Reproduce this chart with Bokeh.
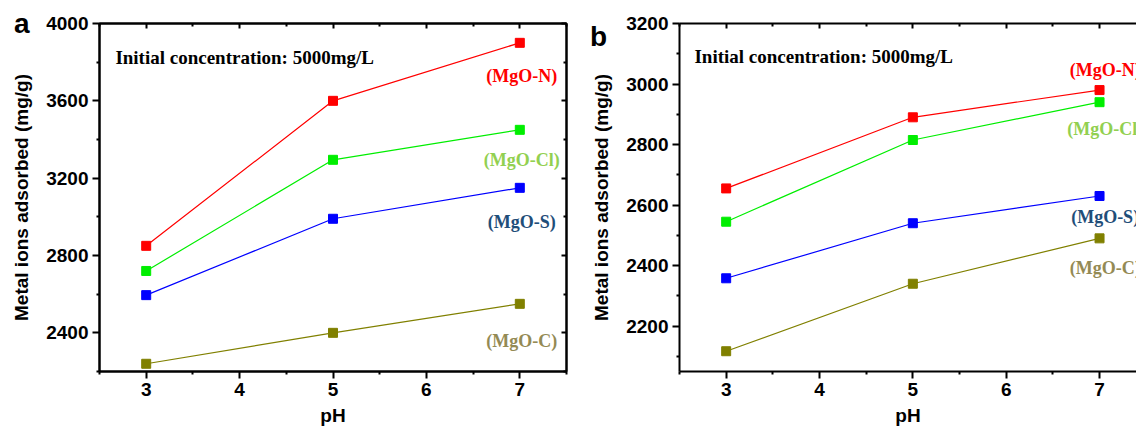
from bokeh.plotting import figure
from bokeh.layouts import row
from bokeh.models import Range1d, FixedTicker, LinearAxis, Label, Div
from bokeh.core.properties import value
from bokeh.embed import file_html
from bokeh.resources import INLINE

# ---------------- data ----------------
ph = [3, 5, 7]
series_names = ["(MgO-N)", "(MgO-Cl)", "(MgO-S)", "(MgO-C)"]

a_N = [2850, 3600, 3900]
a_Cl = [2720, 3295, 3450]
a_S = [2595, 2990, 3150]
a_C = [2240, 2400, 2550]

b_N = [2655, 2890, 2980]
b_Cl = [2545, 2815, 2940]
b_S = [2358, 2540, 2630]
b_C = [2117, 2340, 2490]

x_ticks = [3, 4, 5, 6, 7]
x_minor = [2.5, 3.5, 4.5, 5.5, 6.5, 7.5]
a_y_ticks = [2400, 2800, 3200, 3600, 4000]
a_y_minor = [2200, 2600, 3000, 3400, 3800]
b_y_ticks = [2200, 2400, 2600, 2800, 3000, 3200]
b_y_minor = [2100, 2300, 2500, 2700, 2900, 3100]

annotation = "Initial concentration: 5000mg/L"
y_title = "Metal ions adsorbed (mg/g)"
x_title = "pH"
panel_letters = ["a", "b"]

line_colors = ["#ff0000", "#00ee00", "#0000ff", "#808000"]
label_colors = ["#ff0000", "#92d050", "#1f4e79", "#948a54"]

SANS = "Liberation Sans"
SERIF = "Liberation Serif"


def style_axis(ax, labels=True):
    ax.axis_line_width = 2
    ax.axis_line_color = "black"
    ax.major_tick_line_width = 2
    ax.minor_tick_line_width = 2
    ax.major_tick_line_color = "black"
    ax.minor_tick_line_color = "black"
    ax.major_label_text_font = SANS
    ax.major_label_text_font_style = "bold"
    ax.major_label_text_font_size = "19px"
    ax.major_label_text_color = "black"
    ax.axis_label_text_font = SANS
    ax.axis_label_text_font_style = "bold"
    ax.axis_label_text_font_size = "19px"
    ax.axis_label_text_color = "black"
    if not labels:
        ax.major_label_text_font_size = "0px"
        ax.major_label_text_alpha = 0


def make_panel(ys, yr, yt, ym, xend, width, border_left, border_right,
               label_pos, ann_pos, right_axis):
    p = figure(width=width, height=428, output_backend="svg", toolbar_location=None,
               x_range=Range1d(2.5, xend), y_range=Range1d(*yr),
               min_border_left=border_left, min_border_right=border_right,
               min_border_top=23, min_border_bottom=56,
               background_fill_color="white", border_fill_color="white")
    p.grid.visible = False
    if right_axis:
        p.outline_line_color = "black"
        p.outline_line_width = 2
    else:
        p.outline_line_color = None

    xa = p.xaxis[0]
    xa.ticker = FixedTicker(ticks=x_ticks, minor_ticks=x_minor)
    style_axis(xa)
    xa.axis_label = x_title
    xa.major_tick_out = 7
    xa.major_tick_in = 0
    xa.minor_tick_out = 3
    xa.minor_tick_in = 0
    xa.major_label_standoff = 4
    xa.axis_label_standoff = 6

    ya = p.yaxis[0]
    ya.ticker = FixedTicker(ticks=yt, minor_ticks=ym)
    style_axis(ya)
    ya.axis_label = y_title
    ya.major_tick_out = 7
    ya.major_tick_in = 0
    ya.minor_tick_out = 3
    ya.minor_tick_in = 0
    ya.major_label_standoff = 4
    ya.axis_label_standoff = 11

    top = LinearAxis(ticker=FixedTicker(ticks=x_ticks, minor_ticks=x_minor))
    style_axis(top, labels=False)
    top.major_tick_in = 5
    top.major_tick_out = 0
    top.minor_tick_in = 3
    top.minor_tick_out = 0
    top.major_label_standoff = 0
    p.add_layout(top, "above")

    if right_axis:
        r = LinearAxis(ticker=FixedTicker(ticks=yt, minor_ticks=ym))
        style_axis(r, labels=False)
        r.major_tick_in = 5
        r.major_tick_out = 0
        r.minor_tick_in = 3
        r.minor_tick_out = 0
        r.major_label_standoff = 0
        p.add_layout(r, "right")

    for vals, lc in zip(ys, line_colors):
        p.line(ph, vals, line_color=lc, line_width=1.2)
        p.scatter(ph, vals, marker="square", size=9, fill_color=lc, line_color=lc)

    lx, lys = label_pos
    p.text(x=[lx] * 4, y=lys, text=series_names, text_color=label_colors,
           text_font=value(SERIF), text_font_style="bold", text_font_size="18px",
           text_align="center", text_baseline="middle")

    p.add_layout(Label(x=ann_pos[0], y=ann_pos[1], text=annotation,
                       text_font=SERIF, text_font_style="bold", text_font_size="19px",
                       text_color="black", text_baseline="middle", text_align="left"))
    return p


def letter_div(txt, left, top):
    return Div(text=txt, width=30, height=34,
               styles={"position": "absolute", "left": f"{left}px", "top": f"{top}px",
                       "z-index": "10", "font-family": "'Liberation Sans', Arial, sans-serif",
                       "font-weight": "bold", "font-size": "28px", "line-height": "28px",
                       "color": "black", "margin": "0", "padding": "0",
                       "pointer-events": "none"})


pa = make_panel([a_N, a_Cl, a_S, a_C], (2200, 4000), a_y_ticks, a_y_minor,
                7.5, 588, 99, 22,
                (7.02, [3727, 3295, 2971, 2359]), (2.67, 3825), True)
pb = make_panel([b_N, b_Cl, b_S, b_C], (2050, 3200), b_y_ticks, b_y_minor,
                7.396, 548, 89, 0,
                (7.06, [3045, 2851, 2559, 2391]), (2.66, 3091), False)

da = letter_div(panel_letters[0], 14, 10)
db = letter_div(panel_letters[1], 590, 23)

layout = row(pa, pb, da, db)
open("out.html", "w").write(file_html(layout, INLINE))
